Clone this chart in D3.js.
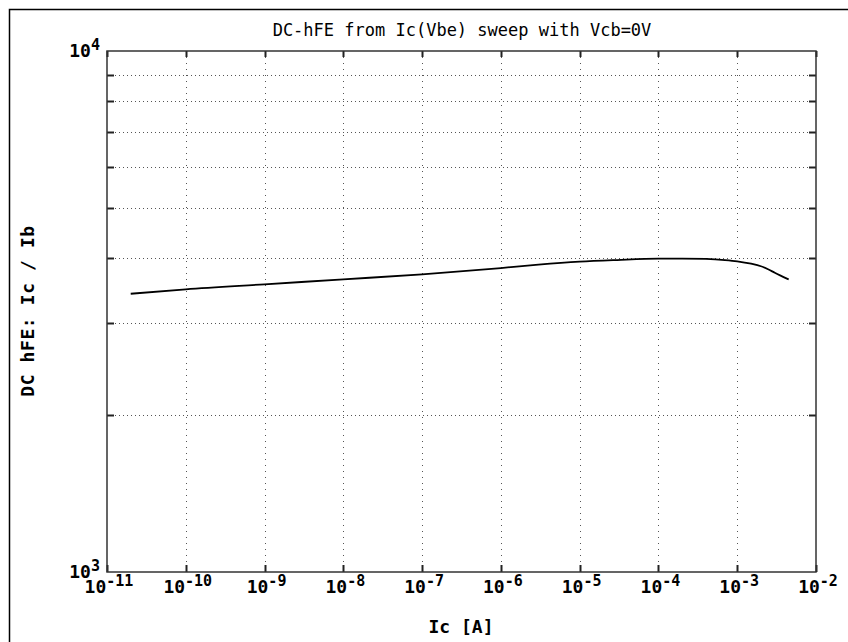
<!DOCTYPE html>
<html>
<head>
<meta charset="utf-8">
<script src="https://cdn.jsdelivr.net/npm/d3@7"></script>
<style>
  body { margin: 0; background: #fff; }
  svg { display: block; }
  text { font-family: "DejaVu Sans Mono", "Liberation Mono", monospace; fill: #000; }
</style>
</head>
<body>
<script>
// collector current sweep (A) and resulting DC gain
var icValues = [2e-11, 1e-10, 1e-9, 1e-8, 1e-7, 1e-6, 3e-6, 1e-5, 3e-5, 1e-4, 2e-4, 4e-4, 7e-4, 1e-3, 1.5e-3, 2e-3, 2.5e-3, 3e-3, 3.5e-3, 4.5e-3];
var hfeValues = [3420, 3488, 3566, 3645, 3727, 3832, 3890, 3941, 3970, 3994, 3996, 3990, 3970, 3948, 3906, 3862, 3808, 3753, 3710, 3645];

var xTickExps = [-11, -10, -9, -8, -7, -6, -5, -4, -3, -2];
var yTickExps = [3, 4];
var yGridValues = [2000, 3000, 4000, 5000, 6000, 7000, 8000, 9000];

var titleText = "DC-hFE from Ic(Vbe) sweep with Vcb=0V";
var xTitle = "Ic [A]";
var yTitle = "DC hFE: Ic / Ib";

var W = 848, H = 642;
var margin = { top: 51, left: 107, right: 32, bottom: 70 };

var svg = d3.select("body").append("svg").attr("width", W).attr("height", H);

var x = d3.scaleLog().domain([1e-11, 1e-2]).range([margin.left, W - margin.right]);
var y = d3.scaleLog().domain([1e3, 1e4]).range([H - margin.bottom, margin.top]);

var x0 = x.range()[0], x1 = x.range()[1];
var y0 = y.range()[0], y1 = y.range()[1];

// outer frame (left + top only)
svg.append("path")
  .attr("d", "M9.5," + H + "V9.5H" + W)
  .attr("fill", "none").attr("stroke", "#000").attr("stroke-width", 1.5);

// grid
var grid = svg.append("g").attr("stroke", "#555").attr("stroke-width", 1).attr("shape-rendering", "crispEdges");
grid.selectAll(".hg").data(yGridValues).enter().append("line")
  .attr("x1", x0).attr("x2", x1)
  .attr("y1", function (d) { return Math.round(y(d)) + 0.5; })
  .attr("y2", function (d) { return Math.round(y(d)) + 0.5; })
  .attr("stroke-dasharray", "1,3");
grid.selectAll(".vg").data(xTickExps.slice(1, -1)).enter().append("line")
  .attr("x1", function (d) { return Math.round(x(Math.pow(10, d))) + 0.5; })
  .attr("x2", function (d) { return Math.round(x(Math.pow(10, d))) + 0.5; })
  .attr("y1", y1).attr("y2", y0)
  .attr("stroke-dasharray", "1,5");

// ticks
var ticks = svg.append("g").attr("stroke", "#222").attr("stroke-width", 2);
xTickExps.forEach(function (e) {
  var px = Math.round(x(Math.pow(10, e))) + 0.5;
  ticks.append("line").attr("x1", px).attr("x2", px).attr("y1", y0).attr("y2", y0 - 7);
  ticks.append("line").attr("x1", px).attr("x2", px).attr("y1", y1).attr("y2", y1 + 6);
});
yGridValues.forEach(function (v) {
  var py = Math.round(y(v)) + 0.5;
  ticks.append("line").attr("x1", x0).attr("x2", x0 + 7).attr("y1", py).attr("y2", py);
  ticks.append("line").attr("x1", x1).attr("x2", x1 - 7).attr("y1", py).attr("y2", py);
});

// plot frame
svg.append("rect")
  .attr("x", x0).attr("y", y1)
  .attr("width", x1 - x0).attr("height", y0 - y1)
  .attr("fill", "none").attr("stroke", "#333").attr("stroke-width", 1.5);

// curve
var line = d3.line()
  .x(function (d, i) { return x(icValues[i]); })
  .y(function (d) { return y(d); })
  .curve(d3.curveMonotoneX);
svg.append("path")
  .datum(hfeValues)
  .attr("d", line)
  .attr("fill", "none").attr("stroke", "#000").attr("stroke-width", 1.8);

// x tick labels
svg.selectAll(".xl").data(xTickExps).enter().append("text")
  .attr("x", function (d) { return x(Math.pow(10, d)) + 2; })
  .attr("y", y0 + 21)
  .attr("text-anchor", "middle")
  .attr("font-weight", "bold")
  .attr("font-size", 18)
  .each(function (d) {
    var t = d3.select(this);
    t.append("tspan").text("10");
    t.append("tspan").attr("dy", -7).attr("font-size", 15).text(d);
  });

// y tick labels
svg.selectAll(".yl").data(yTickExps).enter().append("text")
  .attr("x", x0 - 7)
  .attr("y", function (d) { return y(Math.pow(10, d)) + 6; })
  .attr("text-anchor", "end")
  .attr("font-weight", "bold")
  .attr("font-size", 18)
  .each(function (d) {
    var t = d3.select(this);
    t.append("tspan").text("10");
    t.append("tspan").attr("dy", -7).attr("font-size", 15).text(d);
  });

// titles
svg.append("text")
  .attr("x", 462).attr("y", 36)
  .attr("text-anchor", "middle")
  .attr("font-size", 17)
  .text(titleText);

svg.append("text")
  .attr("x", 461).attr("y", 633)
  .attr("text-anchor", "middle")
  .attr("font-size", 18).attr("font-weight", "bold")
  .text(xTitle);

svg.append("text")
  .attr("transform", "translate(34,311) rotate(-90)")
  .attr("text-anchor", "middle")
  .attr("font-size", 18).attr("font-weight", "bold")
  .attr("letter-spacing", 0.6)
  .text(yTitle);
</script>
</body>
</html>
